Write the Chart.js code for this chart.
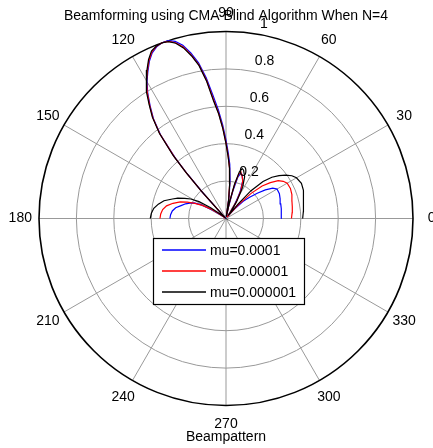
<!DOCTYPE html>
<html>
<head>
<meta charset="utf-8">
<script src="https://cdn.jsdelivr.net/npm/chart.js@4.4.1/dist/chart.umd.min.js"></script>
<style>
  html, body { margin: 0; padding: 0; background: #fff; }
  #wrap { width: 433px; height: 448px; }
</style>
</head>
<body>
<div id="wrap"><canvas id="beamChart" width="433" height="448"></canvas></div>
<script>
const titleText = 'Beamforming using CMA Blind Algorithm When N=4';
const xLabelText = 'Beampattern';
const seriesLabels = ['mu=0.0001', 'mu=0.00001', 'mu=0.000001'];
const seriesColors = ['#0000ff', '#ff0000', '#000000'];

// angle in degrees (normalised magnitude)
const angles = [0, 5, 10, 15, 20, 25, 30, 33, 36, 39, 42, 45, 48, 50, 52, 55, 58, 62, 66, 70, 72, 74, 76, 78, 80,
  82, 84, 86, 88, 90, 92, 94, 96, 98, 100, 102, 104, 106, 108, 110, 112, 114, 116, 118, 120, 122, 124, 126, 128, 130,
  131, 132, 134, 138, 142, 145, 148, 151, 154, 157, 160, 164, 168, 172, 176, 180];

const rMu1e4 = [0.295, 0.297, 0.3, 0.303, 0.308, 0.315, 0.315, 0.298, 0.26, 0.215, 0.17, 0.13, 0.07, 0.03, 0.01, 0.04, 0.09, 0.16, 0.22, 0.25, 0.255, 0.23, 0.15, 0.06, 0.01,
  0.12, 0.21, 0.29, 0.35, 0.42, 0.5, 0.58, 0.66, 0.76, 0.845, 0.905, 0.955, 0.985, 1.0, 1.0, 0.99, 0.97, 0.935, 0.89, 0.845, 0.79, 0.725, 0.66, 0.57, 0.42,
  0.31, 0.18, 0.03, 0.0, 0.0, 0.02, 0.08, 0.15, 0.19, 0.21, 0.23, 0.25, 0.275, 0.29, 0.297, 0.3];

const rMu1e5 = [0.35, 0.355, 0.36, 0.365, 0.375, 0.38, 0.378, 0.365, 0.345, 0.305, 0.26, 0.19, 0.1, 0.04, 0.01, 0.04, 0.1, 0.17, 0.22, 0.25, 0.26, 0.25, 0.18, 0.08, 0.01,
  0.1, 0.19, 0.27, 0.335, 0.405, 0.485, 0.565, 0.64, 0.745, 0.835, 0.895, 0.945, 0.978, 0.996, 1.0, 0.993, 0.975, 0.94, 0.895, 0.85, 0.795, 0.73, 0.665, 0.575, 0.43,
  0.32, 0.19, 0.03, 0.01, 0.01, 0.05, 0.1, 0.145, 0.185, 0.225, 0.26, 0.295, 0.325, 0.342, 0.35, 0.353];

const rMu1e6 = [0.41, 0.415, 0.42, 0.43, 0.44, 0.445, 0.435, 0.42, 0.395, 0.365, 0.33, 0.28, 0.2, 0.1, 0.02, 0.05, 0.11, 0.19, 0.245, 0.275, 0.28, 0.26, 0.19, 0.09, 0.01,
  0.1, 0.19, 0.27, 0.33, 0.4, 0.48, 0.56, 0.63, 0.74, 0.83, 0.89, 0.94, 0.975, 0.995, 1.0, 0.995, 0.98, 0.945, 0.9, 0.855, 0.8, 0.735, 0.67, 0.58, 0.44,
  0.33, 0.2, 0.03, 0.01, 0.03, 0.1, 0.17, 0.215, 0.245, 0.28, 0.305, 0.345, 0.37, 0.39, 0.4, 0.405];

const radialTicks = [0.2, 0.4, 0.6, 0.8, 1];
const angleTicks = [0, 30, 60, 90, 120, 150, 180, 210, 240, 270, 300, 330];

const FONT = '14px "Liberation Sans", Arial, sans-serif';

function toXY(r) {
  return angles.map((a, i) => {
    const t = a * Math.PI / 180;
    return { x: r[i] * Math.cos(t), y: r[i] * Math.sin(t) };
  });
}

const polarFrame = {
  id: 'polarFrame',
  beforeDatasetsDraw(chart) {
    const ctx = chart.ctx;
    const xs = chart.scales.x, ys = chart.scales.y;
    const cx = xs.getPixelForValue(0), cy = ys.getPixelForValue(0);
    const R = xs.getPixelForValue(1) - cx;
    ctx.save();
    // spokes
    ctx.strokeStyle = '#999';
    ctx.lineWidth = 1;
    for (let a = 0; a < 180; a += 30) {
      const t = a * Math.PI / 180;
      ctx.beginPath();
      ctx.moveTo(cx - R * Math.cos(t), cy + R * Math.sin(t));
      ctx.lineTo(cx + R * Math.cos(t), cy - R * Math.sin(t));
      ctx.stroke();
    }
    radialTicks.forEach((v, i) => {
      const last = i === radialTicks.length - 1;
      ctx.strokeStyle = last ? '#000' : '#999';
      ctx.lineWidth = last ? 1.6 : 1;
      ctx.beginPath();
      ctx.arc(cx, cy, v * R, 0, Math.PI * 2);
      ctx.stroke();
    });
    ctx.restore();
  },
  afterDraw(chart) {
    const ctx = chart.ctx;
    const xs = chart.scales.x, ys = chart.scales.y;
    const cx = xs.getPixelForValue(0), cy = ys.getPixelForValue(0);
    const R = xs.getPixelForValue(1) - cx;
    ctx.save();
    ctx.font = FONT;
    ctx.fillStyle = '#000';

    // title + xlabel
    ctx.textAlign = 'center';
    ctx.textBaseline = 'alphabetic';
    ctx.fillText(titleText, cx, 20);
    ctx.fillText(xLabelText, cx, 441);

    // angle labels
    ctx.textBaseline = 'middle';
    angleTicks.forEach(a => {
      const t = a * Math.PI / 180;
      ctx.fillText(String(a), cx + 1.1 * R * Math.cos(t), cy - 1.1 * R * Math.sin(t));
    });

    // radius labels along 82 deg
    ctx.textAlign = 'left';
    ctx.textBaseline = 'bottom';
    const c82 = Math.cos(82 * Math.PI / 180), s82 = Math.sin(82 * Math.PI / 180);
    radialTicks.forEach(v => {
      const rr = (v + 0.01) * R;
      ctx.fillText('  ' + v, cx + rr * c82, cy - rr * s82);
    });

    // legend
    const lx = 153, ly = 238, lw = 151, lh = 66;
    ctx.fillStyle = '#fff';
    ctx.fillRect(lx, ly, lw, lh);
    ctx.strokeStyle = '#000';
    ctx.lineWidth = 1.2;
    ctx.strokeRect(lx + 0.5, ly + 0.5, lw, lh);
    ctx.textBaseline = 'middle';
    seriesLabels.forEach((label, i) => {
      const y = ly + 12 + i * 21;
      ctx.strokeStyle = seriesColors[i];
      ctx.lineWidth = 1.3;
      ctx.beginPath();
      ctx.moveTo(lx + 9, y);
      ctx.lineTo(lx + 53, y);
      ctx.stroke();
      ctx.fillStyle = '#000';
      ctx.fillText(label, lx + 57, y + 1);
    });
    ctx.restore();
  }
};

const series = [rMu1e4, rMu1e5, rMu1e6];

new Chart(document.getElementById('beamChart'), {
  type: 'scatter',
  data: {
    datasets: series.map((r, i) => ({
      label: seriesLabels[i],
      data: toXY(r),
      showLine: true,
      borderColor: seriesColors[i],
      borderWidth: 1.2,
      pointRadius: 0,
      tension: 0,
      order: series.length - i
    }))
  },
  options: {
    responsive: false,
    animation: false,
    devicePixelRatio: 1,
    layout: { padding: { left: 39, right: 20, top: 31.5, bottom: 42.5 } },
    scales: {
      x: { type: 'linear', min: -1, max: 1, display: false },
      y: { type: 'linear', min: -1, max: 1, display: false }
    },
    plugins: {
      legend: { display: false },
      tooltip: { enabled: false }
    }
  },
  plugins: [polarFrame]
});
</script>
</body>
</html>
